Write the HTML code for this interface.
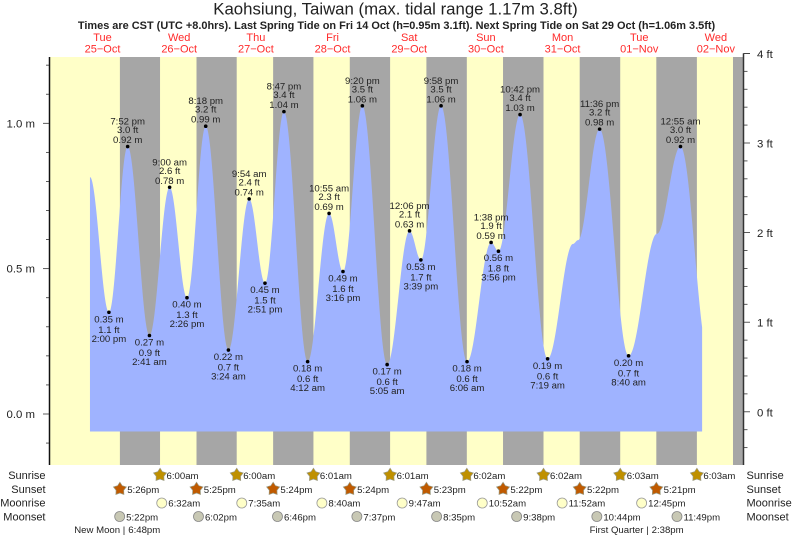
<!DOCTYPE html>
<html lang="en">
<head>
<meta charset="utf-8">
<title>Kaohsiung, Taiwan tide chart</title>
<style>
html,body{margin:0;padding:0;background:#fff;width:793px;height:539px;overflow:hidden}
svg{display:block;filter:blur(0.35px)}
text{font-family:"Liberation Sans",Arial,sans-serif;fill:#222}
</style>
</head>
<body>
<svg id="chart" xmlns="http://www.w3.org/2000/svg" width="793" height="539" viewBox="0 0 793 539">
<text x="395.5" y="14.5" text-anchor="middle" font-size="16.8">Kaohsiung, Taiwan (max. tidal range 1.17m 3.8ft)</text>
<text x="396.5" y="29" text-anchor="middle" font-size="10.95" font-weight="bold">Times are CST (UTC +8.0hrs). Last Spring Tide on Fri 14 Oct (h=0.95m 3.1ft). Next Spring Tide on Sat 29 Oct (h=1.06m 3.5ft)</text>
<g id="bands"></g>
<g id="tide"></g>
<g id="axes"></g>
<g id="days"></g>
<g id="points"></g>
<g id="almanac"></g>
</svg>
<script>
// Day headers
const dayNames = ['Tue','Wed','Thu','Fri','Sat','Sun','Mon','Tue','Wed'];
const dayDates = ['25\u2212Oct','26\u2212Oct','27\u2212Oct','28\u2212Oct','29\u2212Oct','30\u2212Oct','31\u2212Oct','01\u2212Nov','02\u2212Nov'];

// Tide highs and lows (day index counted from 25 Oct)
const tideDays = [0,0,1,1,1,1,2,2,2,2,3,3,3,3,4,4,4,4,5,5,5,5,6,6,7,8];
const tideClocks = ['2:00 pm','7:52 pm','2:41 am','9:00 am','2:26 pm','8:18 pm','3:24 am','9:54 am','2:51 pm','8:47 pm','4:12 am','10:55 am','3:16 pm','9:20 pm','5:05 am','12:06 pm','3:39 pm','9:58 pm','6:06 am','1:38 pm','3:56 pm','10:42 pm','7:19 am','11:36 pm','8:40 am','12:55 am'];
const tideMeters = [0.35,0.92,0.27,0.78,0.40,0.99,0.22,0.74,0.45,1.04,0.18,0.69,0.49,1.06,0.17,0.63,0.53,1.06,0.18,0.59,0.56,1.03,0.19,0.98,0.20,0.92];
const tideFeet = ['1.1','3.0','0.9','2.6','1.3','3.2','0.7','2.4','1.5','3.4','0.6','2.3','1.6','3.5','0.6','2.1','1.7','3.5','0.6','1.9','1.8','3.4','0.6','3.2','0.7','3.0'];
const tideKinds = ['L','H','L','H','L','H','L','H','L','H','L','H','L','H','L','H','L','H','L','H','L','H','L','H','L','H'];

// Unlabelled curve readings: start, shoulders, and the low just past the end
const knotDays = [0,6,6,7,8];
const knotClocks = ['8:04 am','3:16 pm','4:50 pm','5:33 pm','9:50 am'];
const knotMeters = [0.815,0.585,0.598,0.62,0.20];
const curveEndDay = 8;
const curveEndClock = '7:41 am';
const curveFloorMeters = -0.06;

// Sun and moon almanac
const sunriseDays = [1,2,3,4,5,6,7,8];
const sunriseClocks = ['6:00am','6:00am','6:01am','6:01am','6:02am','6:02am','6:03am','6:03am'];
const sunsetDays = [0,1,2,3,4,5,6,7];
const sunsetClocks = ['5:26pm','5:25pm','5:24pm','5:24pm','5:23pm','5:22pm','5:22pm','5:21pm'];
const lastSunsetDay = 8;
const lastSunsetClock = '5:21pm';
const moonriseDays = [1,2,3,4,5,6,7];
const moonriseClocks = ['6:32am','7:35am','8:40am','9:47am','10:52am','11:52am','12:45pm'];
const moonsetDays = [0,1,2,3,4,5,6,7];
const moonsetClocks = ['5:22pm','6:02pm','6:46pm','7:37pm','8:35pm','9:38pm','10:44pm','11:49pm'];
const phaseNames = ['New Moon','First Quarter'];
const phaseDays = [0,7];
const phaseClocks = ['6:48pm','2:38pm'];
const rowNames = ['Sunrise','Sunset','Moonrise','Moonset'];

// Axis ticks
const meterTicks = [0,0.5,1];
const meterMinorTicks = [-0.1,0.1,0.2,0.3,0.4,0.6,0.7,0.8,0.9,1.1,1.2];
const feetTicks = [0,1,2,3,4];
const feetMinorTicks = [-0.4,-0.2,0.2,0.4,0.6,0.8,1.2,1.4,1.6,1.8,2.2,2.4,2.6,2.8,3.2,3.4,3.6,3.8];

const NS = 'http://www.w3.org/2000/svg';
const PLOT = {left: 50, right: 743, top: 57, bottom: 465};

function parseClock(s) {
  const m = s.match(/(\d+):(\d+)\s*(am|pm)/);
  let h = parseInt(m[1], 10) % 12;
  if (m[3] === 'pm') h += 12;
  return h + parseInt(m[2], 10) / 60;
}
function dayValue(day, clock) { return day + parseClock(clock) / 24; }
function xScale(t) { return 64.2 + 76.67 * t; }
function yMeters(h) { return 414 - 290.7 * h; }
function yFeet(f) { return 411.8 - 89.6 * f; }

function make(parent, tag, attrs, content) {
  const e = document.createElementNS(NS, tag);
  for (const k in attrs) e.setAttribute(k, attrs[k]);
  if (content !== undefined) e.textContent = content;
  parent.appendChild(e);
  return e;
}

const bands = document.getElementById('bands');
const tide = document.getElementById('tide');
const axes = document.getElementById('axes');
const days = document.getElementById('days');
const points = document.getElementById('points');
const almanac = document.getElementById('almanac');

// Background daylight and night bands
const dayBg = make(bands, 'rect', {x: PLOT.left, y: PLOT.top, width: PLOT.right - PLOT.left, height: PLOT.bottom - PLOT.top, fill: '#ffffc8'});


sunsetDays.forEach(function (d, i) {
  const x0 = xScale(dayValue(d, sunsetClocks[i]));
  const x1 = xScale(dayValue(sunriseDays[i], sunriseClocks[i]));
  const r = make(bands, 'rect', {x: x0, y: PLOT.top, width: x1 - x0, height: PLOT.bottom - PLOT.top, fill: '#a6a6a6'});
  
  
});
const lastX = xScale(dayValue(lastSunsetDay, lastSunsetClock));
const lastNight = make(bands, 'rect', {x: lastX, y: PLOT.top, width: PLOT.right - lastX, height: PLOT.bottom - PLOT.top, fill: '#a6a6a6'});



// Tide curve: cosine blend between successive readings
const knots = [];
tideDays.forEach(function (d, i) { knots.push({t: dayValue(d, tideClocks[i]), h: tideMeters[i]}); });
knotDays.forEach(function (d, i) { knots.push({t: dayValue(d, knotClocks[i]), h: knotMeters[i]}); });
knots.sort(function (a, b) { return a.t - b.t; });
function levelAt(t) {
  for (let i = 0; i < knots.length - 1; i++) {
    const a = knots[i], b = knots[i + 1];
    if (t <= b.t) {
      const f = (t - a.t) / (b.t - a.t);
      return a.h + (b.h - a.h) * (1 - Math.cos(Math.PI * f)) / 2;
    }
  }
  return knots[knots.length - 1].h;
}
const tStart = knots[0].t;
const tEnd = dayValue(curveEndDay, curveEndClock);
const floorY = yMeters(curveFloorMeters);
const samples = ['M' + xScale(tStart).toFixed(2) + ' ' + floorY.toFixed(2)];
const STEP = 1 / 192;
for (let t = tStart; t < tEnd; t += STEP) {
  samples.push('L' + xScale(t).toFixed(2) + ' ' + yMeters(levelAt(t)).toFixed(2));
}
samples.push('L' + xScale(tEnd).toFixed(2) + ' ' + yMeters(levelAt(tEnd)).toFixed(2));
samples.push('L' + xScale(tEnd).toFixed(2) + ' ' + floorY.toFixed(2) + 'Z');
const area = make(tide, 'path', {d: samples.join(''), fill: '#9fb3ff'});



// Axes
const leftLine = make(axes, 'line', {x1: 49.5, x2: 49.5, y1: PLOT.top, y2: PLOT.bottom, stroke: '#111', 'stroke-width': 1.5});


const rightLine = make(axes, 'line', {x1: 743.5, x2: 743.5, y1: yFeet(4), y2: PLOT.bottom, stroke: '#333', 'stroke-width': 1.5});


const topLine = make(axes, 'line', {x1: 743.5, x2: 750, y1: yFeet(4), y2: yFeet(4), stroke: '#333', 'stroke-width': 0.8});


meterMinorTicks.forEach(function (v) {
  const y = yMeters(v);
  const t = make(axes, 'line', {x1: 46, x2: 49, y1: y, y2: y, stroke: '#333', 'stroke-width': 0.8});
  
  
});
meterTicks.forEach(function (v) {
  const y = yMeters(v);
  const t = make(axes, 'line', {x1: 43, x2: 49, y1: y, y2: y, stroke: '#333', 'stroke-width': 0.8});
  
  
  const l = make(axes, 'text', {x: 35, y: y + 4, 'text-anchor': 'end', 'font-size': 11.4}, v.toFixed(1) + ' m');
  
  
});
feetMinorTicks.forEach(function (v) {
  const y = yFeet(v);
  const t = make(axes, 'line', {x1: 744, x2: 747.5, y1: y, y2: y, stroke: '#333', 'stroke-width': 0.8});
  
  
});
feetTicks.forEach(function (v) {
  const y = yFeet(v);
  const t = make(axes, 'line', {x1: 744, x2: 750, y1: y, y2: y, stroke: '#333', 'stroke-width': 0.8});
  
  
  const l = make(axes, 'text', {x: 757, y: y + 4.5, 'font-size': 11.4}, v + ' ft');
  
  
});

// Day headers
dayNames.forEach(function (name, i) {
  const x = xScale(i + 0.5);
  const a = make(days, 'text', {x: x, y: 41, 'text-anchor': 'middle', 'font-size': 11, style: 'fill:#ff2a2a'}, name);
  
  
  const b = make(days, 'text', {x: x, y: 52.5, 'text-anchor': 'middle', 'font-size': 11, style: 'fill:#ff2a2a'}, dayDates[i]);
  
  
});

// Highs and lows with their labels
tideDays.forEach(function (d, i) {
  const x = xScale(dayValue(d, tideClocks[i]));
  const y = yMeters(tideMeters[i]);
  const dot = make(points, 'circle', {cx: x, cy: y, r: 1.8, fill: '#000'});
  
  
  const high = tideKinds[i] === 'H';
  const rows = [
    {txt: tideMeters[i].toFixed(2) + ' m', dy: high ? -3.5 : 10},
    {txt: tideFeet[i] + ' ft', dy: high ? -13.5 : 20.5},
    {txt: tideClocks[i], dy: high ? -22 : 29.5}
  ];
  rows.forEach(function (row) {
    const t = make(points, 'text', {x: x, y: y + row.dy, 'text-anchor': 'middle', 'font-size': 9.6}, row.txt);
    
    
  });
});

// Almanac rows
function starPoints(cx, cy, outer, inner) {
  const pts = [];
  for (let i = 0; i < 10; i++) {
    const r = i % 2 === 0 ? outer : inner;
    const a = -Math.PI / 2 + i * Math.PI / 5;
    pts.push((cx + r * Math.cos(a)).toFixed(2) + ',' + (cy + r * Math.sin(a)).toFixed(2));
  }
  return pts.join(' ');
}
const rowY = [475, 489, 503, 516.5];
const rowBase = [479, 493, 506.5, 520.5];
rowNames.forEach(function (name, i) {
  const a = make(almanac, 'text', {x: 45.5, y: rowBase[i], 'text-anchor': 'end', 'font-size': 11}, name);
  
  
  const b = make(almanac, 'text', {x: 746.5, y: rowBase[i], 'font-size': 11}, name);
  
  
});
sunriseDays.forEach(function (d, i) {
  const x = xScale(dayValue(d, sunriseClocks[i]));
  const s = make(almanac, 'polygon', {points: starPoints(x, rowY[0], 6.8, 4), fill: '#bf9000', stroke: '#9a9a80', 'stroke-width': 0.7});
  
  
  const t = make(almanac, 'text', {x: x + 6.5, y: rowBase[0], 'font-size': 9.6}, sunriseClocks[i]);
  
  
});
sunsetDays.forEach(function (d, i) {
  const x = xScale(dayValue(d, sunsetClocks[i]));
  const s = make(almanac, 'polygon', {points: starPoints(x, rowY[1], 6.8, 4), fill: '#c05a00', stroke: '#9a9a80', 'stroke-width': 0.7});
  
  
  const t = make(almanac, 'text', {x: x + 7.3, y: rowBase[1], 'font-size': 9.6}, sunsetClocks[i]);
  
  
});
moonriseDays.forEach(function (d, i) {
  const x = xScale(dayValue(d, moonriseClocks[i]));
  const c = make(almanac, 'circle', {cx: x, cy: rowY[2], r: 5, fill: '#ffffc8', stroke: '#999', 'stroke-width': 0.8});
  
  
  const t = make(almanac, 'text', {x: x + 6.5, y: rowBase[2], 'font-size': 9.6}, moonriseClocks[i]);
  
  
});
moonsetDays.forEach(function (d, i) {
  const x = xScale(dayValue(d, moonsetClocks[i]));
  const c = make(almanac, 'circle', {cx: x, cy: rowY[3], r: 5, fill: '#c8c8b4', stroke: '#888', 'stroke-width': 0.8});
  
  
  const t = make(almanac, 'text', {x: x + 6.5, y: rowBase[3], 'font-size': 9.6}, moonsetClocks[i]);
  
  
});
phaseNames.forEach(function (name, i) {
  const x = xScale(dayValue(phaseDays[i], phaseClocks[i]));
  const a = make(almanac, 'text', {x: x + 1, y: 533, 'text-anchor': 'end', 'font-size': 9.6}, name + ' |');
  
  
  const b = make(almanac, 'text', {x: x + 4, y: 533, 'font-size': 9.6}, phaseClocks[i]);
  
  
});
</script>
</body>
</html>
